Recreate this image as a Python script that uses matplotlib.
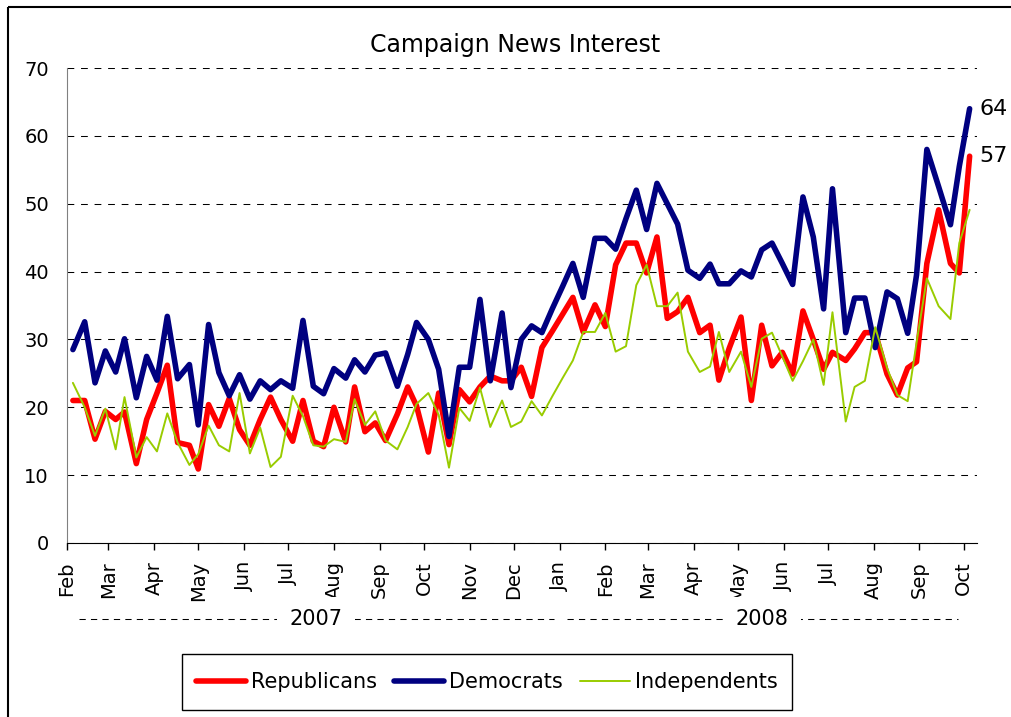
import pandas as pd
import matplotlib
matplotlib.use("Agg")
import matplotlib.pyplot as plt
import matplotlib.dates as mdates
from matplotlib.lines import Line2D
from matplotlib.patches import Rectangle
from matplotlib.transforms import blended_transform_factory


# Survey dates

survey_dates = [
    "2007-02-05", "2007-02-13", "2007-02-20", "2007-02-27", "2007-03-06",
    "2007-03-12", "2007-03-20", "2007-03-27", "2007-04-03", "2007-04-10",
    "2007-04-17", "2007-04-25", "2007-05-01", "2007-05-08", "2007-05-15",
    "2007-05-22", "2007-05-29", "2007-06-05", "2007-06-12", "2007-06-19",
    "2007-06-26", "2007-07-04", "2007-07-11", "2007-07-18", "2007-07-25",
    "2007-08-01", "2007-08-09", "2007-08-15", "2007-08-22", "2007-08-29",
    "2007-09-05", "2007-09-13", "2007-09-20", "2007-09-26", "2007-10-04",
    "2007-10-11", "2007-10-18", "2007-10-25", "2007-11-01", "2007-11-08",
    "2007-11-15", "2007-11-23", "2007-11-29", "2007-12-06", "2007-12-13",
    "2007-12-20", "2007-12-27",
    "2008-01-03", "2008-01-10", "2008-01-17", "2008-01-25", "2008-02-01",
    "2008-02-08", "2008-02-15", "2008-02-22", "2008-02-29", "2008-03-07",
    "2008-03-14", "2008-03-21", "2008-03-28", "2008-04-05", "2008-04-12",
    "2008-04-18", "2008-04-25", "2008-05-03", "2008-05-10", "2008-05-17",
    "2008-05-24", "2008-05-31", "2008-06-07", "2008-06-14", "2008-06-21",
    "2008-06-28", "2008-07-04", "2008-07-13", "2008-07-19", "2008-07-26",
    "2008-08-02", "2008-08-10", "2008-08-17", "2008-08-24", "2008-08-30",
    "2008-09-06", "2008-09-14", "2008-09-22", "2008-09-28", "2008-10-05"]

republicans = [
    21.0, 21.0, 15.3, 19.4, 18.2, 19.3, 11.7, 18.2, 22.1, 26.2,
    14.8, 14.4, 10.9, 20.4, 17.2, 21.3, 16.7, 14.4, 18.2, 21.5,
    18.2, 15.0, 21.0, 15.0, 14.2, 20.0,
    14.9, 23.0, 16.4, 17.7, 15.1, 19.0, 23.0, 20.2, 13.4, 22.1,
    14.5, 22.6, 20.8, 23.0, 24.6, 23.9, 23.9, 25.9, 21.6, 28.8,
    31.2, 33.7, 36.2, 31.1, 35.1, 31.9, 41.0, 44.2, 44.2, 39.8,
    45.1, 33.1, 34.1, 36.2, 31.0, 32.1, 24.0, 28.7, 33.3, 21.0, 32.1,
    26.1, 28.1, 24.9, 34.2, 30.0, 25.6, 28.1, 26.9, 28.6, 31.0,
    31.0, 24.9, 21.8, 25.8, 26.7, 41.2, 49.1, 41.2, 39.8, 57.0]

democrats = [
    28.5, 32.6, 23.6, 28.3, 25.2, 30.1, 21.4, 27.5, 24.0, 33.4,
    24.2, 26.3, 17.4, 32.2, 25.1, 21.7, 24.8, 21.2, 23.9, 22.6,
    23.9, 22.8, 32.8, 23.1, 22.0, 25.7,
    24.3, 27.0, 25.2, 27.7, 28.0, 23.1, 27.8, 32.5, 30.0, 25.6,
    15.7, 25.9, 25.9, 35.9, 23.9, 33.9, 22.9, 30.0, 32.0, 31.0,
    34.5, 37.8, 41.2, 36.2, 44.9, 44.9, 43.3, 47.8, 52.0, 46.2,
    53.0, 50.0, 47.0, 40.2, 39.0, 41.1, 38.2, 38.2, 40.1, 39.2, 43.2,
    44.2, 41.2, 38.1, 51.0, 45.1, 34.5, 52.2, 31.0, 36.1, 36.1,
    28.8, 37.0, 36.0, 30.9, 39.5, 58.0, 52.5, 46.9, 55.5, 64.0]

independents = [
    23.6, 20.0, 15.8, 19.8, 13.8, 21.5, 12.6, 15.6, 13.5, 19.1,
    14.8, 11.5, 13.1, 17.3, 14.4, 13.5, 22.1, 13.2, 17.0, 11.2,
    12.7, 21.7, 18.7, 14.4, 14.2, 15.3,
    14.9, 21.2, 17.4, 19.4, 15.1, 13.8, 17.1, 20.5, 22.1, 18.9,
    11.1, 19.9, 18.0, 22.9, 17.1, 21.0, 17.1, 17.9, 20.9, 18.8,
    21.6, 24.3, 26.9, 31.1, 31.1, 33.9, 28.2, 29.0, 38.0, 41.0,
    34.9, 34.9, 36.9, 28.2, 25.2, 26.0, 31.1, 25.2, 28.2, 23.0, 30.1,
    31.0, 27.5, 23.9, 26.8, 30.0, 23.3, 34.0, 17.9, 23.0, 23.9,
    31.8, 25.8, 21.8, 20.9, 29.5, 39.0, 34.9, 33.0, 44.2, 49.1]

series_names = ["Republicans", "Democrats", "Independents"]
series_colors = ["#FF0000", "#000080", "#99CC00"]
series_widths = [4.0, 4.0, 1.4]

years = ["2007", "2008"]
year_spans = [("2007-02-09", "2007-12-28"), ("2008-01-06", "2008-09-27")]

W, H = 1011, 717


def px_x(x):
    return x / W


def px_y(y):
    return 1 - y / H


# Figure and axes

fig = plt.figure(figsize=(W / 100, H / 100), dpi=100)
fig.patch.set_facecolor("white")
ax = fig.add_axes([px_x(67), px_y(543), px_x(977 - 67), (543 - 68) / H])

dates = pd.to_datetime(survey_dates)
lines = []
for values, name, color, width in zip(
        [republicans, democrats, independents],
        series_names, series_colors, series_widths):
    line, = ax.plot(dates, values, color=color, lw=width, label=name,
                    solid_joinstyle="round", solid_capstyle="round")
    lines.append(line)

ax.set_xlim(pd.Timestamp("2007-02-01"), pd.Timestamp("2008-10-10"))
ax.set_ylim(0, 70)
ax.set_yticks(range(0, 71, 10))

ax.xaxis.set_major_locator(mdates.MonthLocator())
ax.xaxis.set_major_formatter(mdates.DateFormatter("%b"))
ax.tick_params(axis="x", length=5, width=1, pad=8, labelsize=14,
               labelrotation=90, direction="out")
ax.tick_params(axis="y", length=0, pad=13, labelsize=14)

ax.set_axisbelow(True)
ax.yaxis.grid(True, color="black", lw=0.75, linestyle=(0, (6.5, 6.5)))

for side in ["top", "right"]:
    ax.spines[side].set_visible(False)
ax.spines["left"].set_color("#808080")
ax.spines["bottom"].set_color("black")

# End labels

for values in [democrats, republicans]:
    ax.annotate(f"{values[-1]:.0f}", xy=(dates[-1], values[-1]),
                xytext=(10, 0), textcoords="offset pixels",
                ha="left", va="center", fontsize=16)

# Year brackets under the month labels

blend = blended_transform_factory(ax.transData, ax.transAxes)
for year, (start, end) in zip(years, year_spans):
    x0 = mdates.date2num(pd.Timestamp(start))
    x1 = mdates.date2num(pd.Timestamp(end))
    ax.plot([x0, x1], [-0.16, -0.16], transform=blend, clip_on=False,
            color="black", lw=0.75, linestyle=(0, (6, 5)))
    ax.text((x0 + x1) / 2, -0.16, year, transform=blend, ha="center",
            va="center", fontsize=15,
            bbox=dict(boxstyle="square,pad=0.6", facecolor="white",
                      edgecolor="none"))

# Title, legend, frame

fig.text(px_x(515), px_y(45), "Campaign News Interest",
         ha="center", va="center", fontsize=17)

fig.legend(handles=lines, loc="center",
           bbox_to_anchor=(px_x(487), px_y(682)), ncol=3, frameon=False,
           fontsize=15, handlelength=2.4, handletextpad=0.25,
           columnspacing=0.8)
fig.add_artist(Rectangle((px_x(182), px_y(710)), px_x(610), 56 / H,
                         transform=fig.transFigure, fill=False,
                         edgecolor="black", lw=1))

fig.add_artist(Line2D([px_x(8), 1], [px_y(7), px_y(7)],
                      transform=fig.transFigure, color="black", lw=1.5,
                      solid_capstyle="butt"))
fig.add_artist(Line2D([px_x(8), px_x(8)], [px_y(7), 0],
                      transform=fig.transFigure, color="black", lw=1.5,
                      solid_capstyle="butt"))

fig.savefig("out.png", dpi=100)
